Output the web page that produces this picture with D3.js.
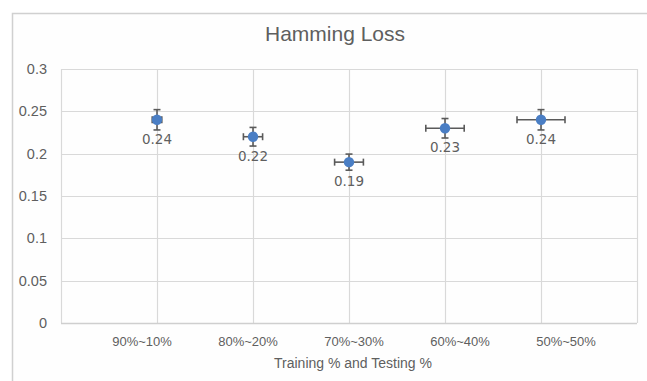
<!DOCTYPE html>
<html>
<head>
<meta charset="utf-8">
<script src="https://cdn.jsdelivr.net/npm/d3@7"></script>
<style>
  html, body { margin: 0; padding: 0; background: #ffffff; }
  svg { display: block; }
</style>
</head>
<body>
<svg id="chart" width="647" height="381"></svg>
<script>
const categories = ["90%~10%", "80%~20%", "70%~30%", "60%~40%", "50%~50%"];
const xPositions = [1, 2, 3, 4, 5];
const hammingLoss = [0.24, 0.22, 0.19, 0.23, 0.24];
const dataLabels = ["0.24", "0.22", "0.19", "0.23", "0.24"];
const yErrors = [0.012, 0.011, 0.0095, 0.0115, 0.012];
const xErrors = [0.05, 0.1, 0.15, 0.2, 0.25];
const yTicks = [0, 0.05, 0.1, 0.15, 0.2, 0.25, 0.3];
const yTickLabels = ["0", "0.05", "0.1", "0.15", "0.2", "0.25", "0.3"];
const xGridValues = [1, 2, 3, 4, 5, 6];
const chartTitle = "Hamming Loss";
const xAxisTitle = "Training % and Testing %";

const svg = d3.select("#chart");
const textColor = "#5f5f5f";
const gridColor = "#d9d9d9";

// outer chart border
svg.append("rect")
  .attr("x", 12.5).attr("y", 13.5)
  .attr("width", 660).attr("height", 400)
  .attr("fill", "#fefefe")
  .attr("stroke", "#d0d0d0").attr("stroke-width", 1.5);

const plot = { left: 61, right: 637, top: 69, bottom: 323 };

const x = d3.scaleLinear().domain([0, 6]).range([plot.left, plot.right]);
const y = d3.scaleLinear().domain([0, 0.3]).range([plot.bottom, plot.top]);
const xLabelScale = d3.scalePoint().domain(categories).range([142, 566]);

// horizontal gridlines
svg.append("g").selectAll("line")
  .data(yTicks)
  .join("line")
  .attr("x1", plot.left).attr("x2", plot.right)
  .attr("y1", d => Math.round(y(d)) + 0.5).attr("y2", d => Math.round(y(d)) + 0.5)
  .attr("stroke", gridColor).attr("stroke-width", 1.2);

// vertical gridlines
svg.append("g").selectAll("line")
  .data(xGridValues)
  .join("line")
  .attr("x1", d => Math.round(x(d)) + 0.5).attr("x2", d => Math.round(x(d)) + 0.5)
  .attr("y1", plot.top).attr("y2", plot.bottom)
  .attr("stroke", gridColor).attr("stroke-width", 1.2);

// left & bottom axis lines
svg.append("line")
  .attr("x1", plot.left + 0.5).attr("x2", plot.left + 0.5)
  .attr("y1", plot.top).attr("y2", plot.bottom)
  .attr("stroke", gridColor).attr("stroke-width", 1.2);
svg.append("line")
  .attr("x1", plot.left).attr("x2", plot.right)
  .attr("y1", plot.bottom + 0.5).attr("y2", plot.bottom + 0.5)
  .attr("stroke", "#cfcfcf").attr("stroke-width", 1.5);

// y tick labels
svg.append("g").selectAll("text")
  .data(yTicks)
  .join("text")
  .attr("x", 47)
  .attr("y", d => y(d))
  .attr("dy", "0.35em")
  .attr("text-anchor", "end")
  .attr("font-family", "Liberation Sans, Arial, sans-serif")
  .attr("font-size", 14.5)
  .attr("fill", textColor)
  .text((d, i) => yTickLabels[i]);

// x tick labels
svg.append("g").selectAll("text")
  .data(categories)
  .join("text")
  .attr("x", d => xLabelScale(d))
  .attr("y", 346)
  .attr("text-anchor", "middle")
  .attr("font-family", "Liberation Sans, Arial, sans-serif")
  .attr("font-size", 13)
  .attr("fill", textColor)
  .text(d => d);

// axis title
svg.append("text")
  .attr("x", 353).attr("y", 368)
  .attr("text-anchor", "middle")
  .attr("font-family", "Liberation Sans, Arial, sans-serif")
  .attr("font-size", 14)
  .attr("fill", textColor)
  .text(xAxisTitle);

// chart title
svg.append("text")
  .attr("x", 335).attr("y", 41)
  .attr("text-anchor", "middle")
  .attr("font-family", "Liberation Sans, Arial, sans-serif")
  .attr("font-size", 21)
  .attr("fill", textColor)
  .text(chartTitle);

const pts = xPositions.map((xp, i) => ({ xp, v: hammingLoss[i], ye: yErrors[i], xe: xErrors[i], label: dataLabels[i] }));
const errColor = "#5a5a5a";
const cap = 3.5;

const eg = svg.append("g").attr("stroke", errColor).attr("stroke-width", 1.6).attr("fill", "none");
// vertical error bars
eg.selectAll("line.vbar").data(pts).join("line").attr("class", "vbar")
  .attr("x1", d => x(d.xp)).attr("x2", d => x(d.xp))
  .attr("y1", d => y(d.v + d.ye)).attr("y2", d => y(d.v - d.ye));
eg.selectAll("line.vcapT").data(pts).join("line").attr("class", "vcapT")
  .attr("x1", d => x(d.xp) - cap).attr("x2", d => x(d.xp) + cap)
  .attr("y1", d => y(d.v + d.ye)).attr("y2", d => y(d.v + d.ye));
eg.selectAll("line.vcapB").data(pts).join("line").attr("class", "vcapB")
  .attr("x1", d => x(d.xp) - cap).attr("x2", d => x(d.xp) + cap)
  .attr("y1", d => y(d.v - d.ye)).attr("y2", d => y(d.v - d.ye));
// horizontal error bars
eg.selectAll("line.hbar").data(pts).join("line").attr("class", "hbar")
  .attr("x1", d => x(d.xp - d.xe)).attr("x2", d => x(d.xp + d.xe))
  .attr("y1", d => y(d.v)).attr("y2", d => y(d.v));
eg.selectAll("line.hcapL").data(pts).join("line").attr("class", "hcapL")
  .attr("x1", d => x(d.xp - d.xe)).attr("x2", d => x(d.xp - d.xe))
  .attr("y1", d => y(d.v) - cap).attr("y2", d => y(d.v) + cap);
eg.selectAll("line.hcapR").data(pts).join("line").attr("class", "hcapR")
  .attr("x1", d => x(d.xp + d.xe)).attr("x2", d => x(d.xp + d.xe))
  .attr("y1", d => y(d.v) - cap).attr("y2", d => y(d.v) + cap);

// markers
svg.append("g").selectAll("circle").data(pts).join("circle")
  .attr("cx", d => x(d.xp)).attr("cy", d => y(d.v))
  .attr("r", 5.2)
  .attr("fill", "#4a7ec4");

// data labels
svg.append("g").selectAll("text").data(pts).join("text")
  .attr("x", d => x(d.xp)).attr("y", d => y(d.v) + 24)
  .attr("text-anchor", "middle")
  .attr("font-family", "DejaVu Sans, sans-serif")
  .attr("font-size", 13.5)
  .attr("fill", textColor)
  .text(d => d.label);
</script>
</body>
</html>
